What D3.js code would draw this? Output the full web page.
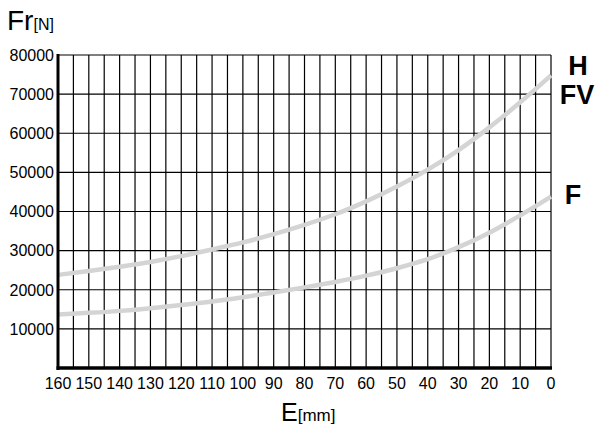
<!DOCTYPE html>
<html><head><meta charset="utf-8">
<script src="https://cdn.jsdelivr.net/npm/d3@7"></script>
<style>body{margin:0;background:#fff}svg{display:block}text{font-family:"Liberation Sans",Arial,sans-serif;fill:#000}</style>
</head><body>
<script>
const distances = [160,150,140,130,120,110,100,90,80,70,60,50,40,30,20,10,0];
const seriesHFV = [23800,24800,25900,27100,28600,30300,32100,34200,36600,39300,42600,46400,50700,55700,61500,67900,74800];
const seriesF   = [13700,14100,14600,15300,16100,17000,18100,19300,20600,22000,23600,25500,27800,30900,34600,39000,43800];
const yTickLabels = [10000,20000,30000,40000,50000,60000,70000,80000];
const xTickLabels = [160,150,140,130,120,110,100,90,80,70,60,50,40,30,20,10,0];
const xGrid = [160,155,150,145,140,135,130,125,120,115,110,105,100,95,90,85,80,75,70,65,60,55,50,45,40,35,30,25,20,15,10,5,0];

const W=597,H=427;
const svg=d3.select("body").append("svg").attr("width",W).attr("height",H);
const x=d3.scaleLinear().domain([160,0]).range([58,551]);
const y=d3.scaleLinear().domain([0,80000]).range([368,55]);

const g=svg.append("g");
g.selectAll("line.vx").data(xGrid).join("line")
 .attr("x1",d=>x(d)).attr("x2",d=>x(d)).attr("y1",y(80000)).attr("y2",y(0))
 .attr("stroke","#000").attr("stroke-width",1.2);
g.selectAll("line.hy").data(yTickLabels).join("line")
 .attr("x1",x(160)).attr("x2",x(0)).attr("y1",d=>y(d)).attr("y2",d=>y(d))
 .attr("stroke","#000").attr("stroke-width",1.2);

const line=d3.line().x((d,i)=>x(distances[i])).y(d=>y(d)).curve(d3.curveMonotoneX);
[seriesHFV,seriesF].forEach(s=>{
  g.append("path").datum(s).attr("d",line).attr("fill","none")
   .attr("stroke","#d4d4d4").attr("stroke-width",4.5);
});

g.append("line").attr("x1",x(160)).attr("x2",x(160)).attr("y1",y(80000)-1).attr("y2",y(0)+2)
 .attr("stroke","#000").attr("stroke-width",3);
g.append("line").attr("x1",x(160)-1.5).attr("x2",x(0)+1).attr("y1",y(0)).attr("y2",y(0))
 .attr("stroke","#000").attr("stroke-width",3.5);

g.selectAll("text.yl").data(yTickLabels).join("text")
 .attr("x",54).attr("y",d=>y(d)).attr("dy","0.36em").attr("text-anchor","end")
 .attr("font-size",16).text(d=>d);
g.selectAll("text.xl").data(xTickLabels).join("text")
 .attr("x",d=>x(d)).attr("y",389).attr("text-anchor","middle")
 .attr("font-size",16).text(d=>d);

const t1=svg.append("text").attr("x",7).attr("y",30);
t1.append("tspan").attr("font-size",28).text("Fr");
t1.append("tspan").attr("font-size",16).text("[N]");
const t2=svg.append("text").attr("x",281).attr("y",421);
t2.append("tspan").attr("font-size",25).text("E");
t2.append("tspan").attr("font-size",17).text("[mm]");

svg.append("text").attr("x",578).attr("y",75).attr("text-anchor","middle").attr("font-size",27).attr("font-weight","bold").text("H");
svg.append("text").attr("x",577).attr("y",104).attr("text-anchor","middle").attr("font-size",27).attr("font-weight","bold").text("FV");
svg.append("text").attr("x",573).attr("y",204).attr("text-anchor","middle").attr("font-size",27).attr("font-weight","bold").text("F");
</script>
</body></html>
